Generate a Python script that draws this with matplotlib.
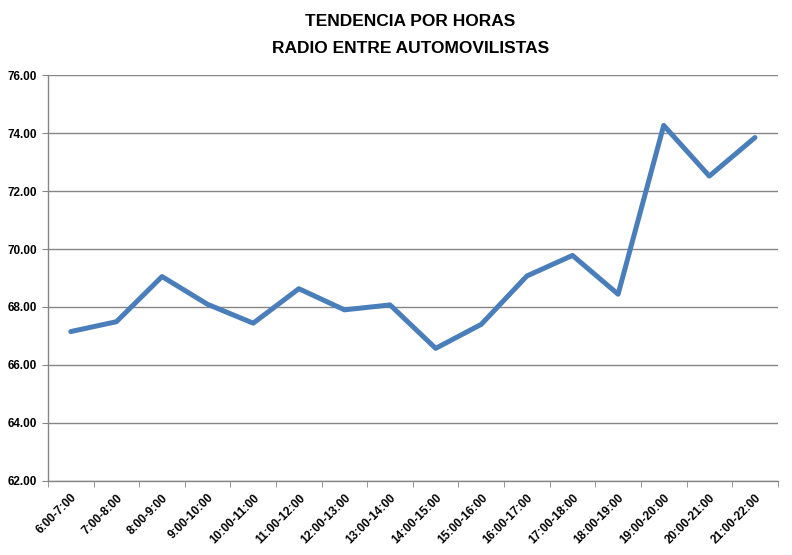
import matplotlib.pyplot as plt
import numpy as np

horas = ['6:00-7:00', '7:00-8:00', '8:00-9:00', '9:00-10:00', '10:00-11:00',
         '11:00-12:00', '12:00-13:00', '13:00-14:00', '14:00-15:00', '15:00-16:00',
         '16:00-17:00', '17:00-18:00', '18:00-19:00', '19:00-20:00', '20:00-21:00',
         '21:00-22:00']
valores = [67.15, 67.49, 69.05, 68.09, 67.44, 68.63, 67.90, 68.07,
           66.57, 67.40, 69.07, 69.78, 68.44, 74.27, 72.52, 73.85]
y_ticks = [62, 64, 66, 68, 70, 72, 74, 76]

fig = plt.figure(figsize=(7.92, 5.55), dpi=100)
ax = fig.add_axes([0.0606, 0.1339, 0.9214, 0.7304])

x = np.arange(len(horas))
ax.plot(x, valores, color='#4A7EBB', linewidth=3.6,
        solid_capstyle='round', solid_joinstyle='round', zorder=3)

ax.set_xlim(-0.5, len(horas) - 0.5)
ax.set_ylim(62, 76)
ax.set_yticks(y_ticks)
ax.set_yticklabels(['%.2f' % v for v in y_ticks], fontweight='bold',
                   fontsize=8.5, family='Liberation Sans')
ax.yaxis.grid(True, color='#868686', linewidth=1)
ax.set_axisbelow(True)

# etiquetas en el centro, marcas entre categorias
ax.set_xticks(x)
ax.set_xticklabels(horas, rotation=45, ha='right', rotation_mode='anchor',
                   fontweight='bold', fontsize=8.5, family='Liberation Sans')
ax.tick_params(axis='x', length=0, pad=8)
ax.set_xticks(np.arange(-0.5, len(horas)), minor=True)
ax.tick_params(axis='x', which='minor', length=4, color='#868686', direction='out')
ax.tick_params(axis='y', length=4, color='#868686', pad=4)

for s in ['top', 'right']:
    ax.spines[s].set_visible(False)
for s in ['left', 'bottom']:
    ax.spines[s].set_color('#868686')
    ax.spines[s].set_linewidth(1)

fig.text(0.518, 0.962, 'TENDENCIA POR HORAS', ha='center', va='center',
         fontsize=12.5, fontweight='bold', family='Liberation Sans')
fig.text(0.518, 0.913, 'RADIO ENTRE AUTOMOVILISTAS', ha='center', va='center',
         fontsize=12.5, fontweight='bold', family='Liberation Sans')

fig.savefig('out.png', dpi=100)
